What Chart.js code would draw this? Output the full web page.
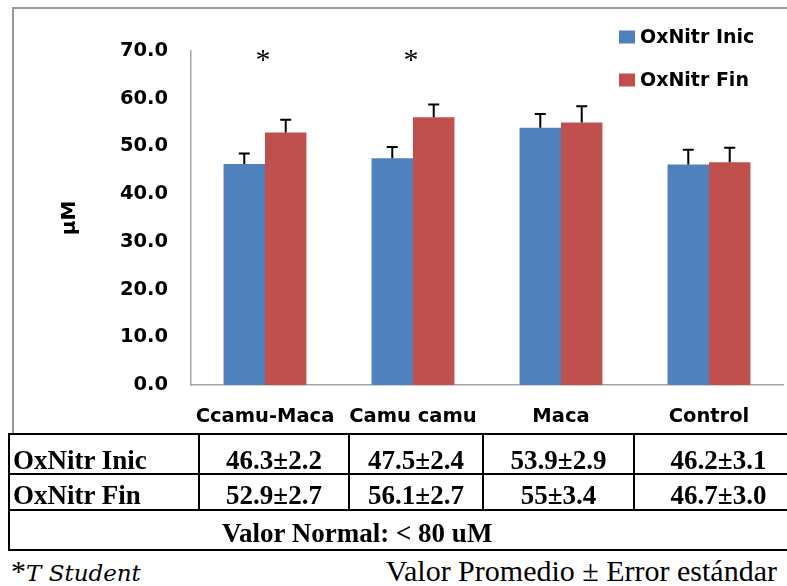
<!DOCTYPE html>
<html>
<head>
<meta charset="utf-8">
<script src="https://cdn.jsdelivr.net/npm/chart.js@4.4.1/dist/chart.umd.min.js"></script>
<style>
  html, body { margin: 0; padding: 0; background: #fff; }
  body { width: 787px; height: 586px; position: relative; overflow: hidden; }
  #frame {
    position: absolute; left: 12px; top: 7px; width: 800px; height: 426px;
    border-left: 2px solid #999; border-top: 2px solid #999;
  }
  #chart-box { position: absolute; left: 0; top: 0; width: 787px; height: 434px; }
  #values {
    position: absolute; left: 8px; top: 433px; width: 794px;
    border-collapse: collapse; table-layout: fixed;
    font-family: "Liberation Serif", "Times New Roman", serif; font-weight: bold; font-size: 27px;
  }
  #values td {
    border: 2px solid #000; padding: 0; line-height: 25px;
    vertical-align: bottom; text-align: center; white-space: nowrap; overflow: hidden;
  }
  #values td.name { text-align: left; padding-left: 3px; }
  #values tr.r1 td { height: 38px; }
  #values tr.r2 td { height: 33px; padding-bottom: 1px; }
  #values tr.r3 td { height: 35px; padding-bottom: 3px; text-align: left; padding-left: 212px; }
  .note {
    position: absolute; top: 557px; line-height: 28px;
    font-family: "Liberation Serif", "Times New Roman", serif; font-size: 30px; white-space: nowrap;
  }
  .note .it { font-family: "DejaVu Serif", serif; font-style: italic; font-size: 23px; }
</style>
</head>
<body>
<div id="frame"></div>
<div id="chart-box"><canvas id="oxChart"></canvas></div>
<table id="values">
  <colgroup>
    <col style="width:190px"><col style="width:150px"><col style="width:134px"><col style="width:151px"><col style="width:169px">
  </colgroup>
  <tbody id="values-body"></tbody>
</table>
<div class="note" style="left:11px">*<span class="it">T Student</span></div>
<div class="note" style="right:10px">Valor Promedio ± Error estándar</div>

<script>
// --- data ---
const categories = ["Ccamu-Maca", "Camu camu", "Maca", "Control"];
const inicValues = [46.3, 47.5, 53.9, 46.2];
const inicErrors = [2.2, 2.4, 2.9, 3.1];
const finValues = [52.9, 56.1, 55, 46.7];
const finErrors = [2.7, 2.7, 3.4, 3.0];
const significant = [true, true, false, false];
const yTicks = [0, 10, 20, 30, 40, 50, 60, 70];

const BLUE = "#4F81BD";
const RED = "#C0504D";
const AXIS_GRAY = "#a6a6a6";

// --- table under the chart ---
const fmt = (v, e) => v + "±" + e.toFixed(1);
const rowsHtml = [
    ["OxNitr Inic", inicValues, inicErrors, "r1"],
    ["OxNitr Fin", finValues, finErrors, "r2"]
].map(([name, vals, errs, cls]) =>
    `<tr class="${cls}"><td class="name">${name}</td>` +
    vals.map((v, i) => `<td>${fmt(v, errs[i])}</td>`).join("") + "</tr>"
).join("");
document.getElementById("values-body").innerHTML =
    rowsHtml + `<tr class="r3"><td colspan="5">Valor Normal: &lt; 80 uM</td></tr>`;

// --- plugins ---
const errorBars = {
    id: "errorBars",
    afterDatasetsDraw(chart) {
        const ctx = chart.ctx;
        const y = chart.scales.y;
        ctx.save();
        ctx.strokeStyle = "#000";
        ctx.lineWidth = 2;
        chart.data.datasets.forEach((ds, di) => {
            const meta = chart.getDatasetMeta(di);
            meta.data.forEach((bar, i) => {
                const top = y.getPixelForValue(ds.data[i] + ds.errors[i]);
                ctx.beginPath();
                ctx.moveTo(bar.x, bar.y);
                ctx.lineTo(bar.x, top);
                ctx.moveTo(bar.x - 5.5, top);
                ctx.lineTo(bar.x + 5.5, top);
                ctx.stroke();
            });
        });
        ctx.restore();
    }
};

const asterisks = {
    id: "asterisks",
    afterDraw(chart) {
        const ctx = chart.ctx;
        const x = chart.scales.x;
        ctx.save();
        ctx.font = '30px "Liberation Serif", serif';
        ctx.fillStyle = "#000";
        ctx.textAlign = "center";
        ctx.textBaseline = "alphabetic";
        significant.forEach((s, i) => {
            if (s) ctx.fillText("*", x.getPixelForValue(i) - 2, chart.chartArea.top + 18);
        });
        ctx.restore();
    }
};

const cornerLegend = {
    id: "cornerLegend",
    afterDraw(chart) {
        const ctx = chart.ctx;
        ctx.save();
        ctx.font = 'bold 19px "DejaVu Sans", sans-serif';
        ctx.textBaseline = "middle";
        ctx.textAlign = "left";
        chart.data.datasets.forEach((ds, i) => {
            const cy = 37 + i * 43;
            ctx.fillStyle = ds.backgroundColor;
            ctx.fillRect(619, cy - 6.5, 16, 13);
            ctx.fillStyle = "#000";
            ctx.fillText(ds.label, 640, cy + 1);
        });
        ctx.restore();
    }
};

// --- chart ---
new Chart(document.getElementById("oxChart"), {
    type: "bar",
    data: {
        labels: categories,
        datasets: [
            { label: "OxNitr Inic", data: inicValues, errors: inicErrors, backgroundColor: BLUE },
            { label: "OxNitr Fin", data: finValues, errors: finErrors, backgroundColor: RED }
        ]
    },
    options: {
        responsive: true,
        maintainAspectRatio: false,
        animation: false,
        layout: { padding: { top: 51, right: 4, left: 0, bottom: 0 } },
        datasets: { bar: { categoryPercentage: 0.56, barPercentage: 1.0 } },
        scales: {
            x: {
                grid: { display: false, drawTicks: false },
                border: { display: true, color: AXIS_GRAY, width: 1.5 },
                ticks: { color: "#000", padding: 20, font: { family: "DejaVu Sans", weight: "bold", size: 19.5 } },
                afterFit(scale) { scale.height = 49; }
            },
            y: {
                min: 0,
                max: 70,
                afterBuildTicks(scale) { scale.ticks = yTicks.map(v => ({ value: v })); },
                grid: { display: false, drawTicks: false },
                border: { display: true, color: AXIS_GRAY, width: 1.5 },
                ticks: {
                    color: "#000", padding: 23,
                    font: { family: "DejaVu Sans", weight: "bold", size: 19.5 },
                    callback: v => v.toFixed(1)
                },
                title: {
                    display: true, text: "µM", color: "#000",
                    font: { family: "DejaVu Sans", weight: "bold", size: 20 },
                    padding: { top: 58, bottom: 0 }
                },
                afterFit(scale) { scale.width = 191; }
            }
        },
        plugins: {
            legend: { display: false },
            tooltip: { enabled: false }
        }
    },
    plugins: [errorBars, asterisks, cornerLegend]
});
</script>
</body>
</html>
